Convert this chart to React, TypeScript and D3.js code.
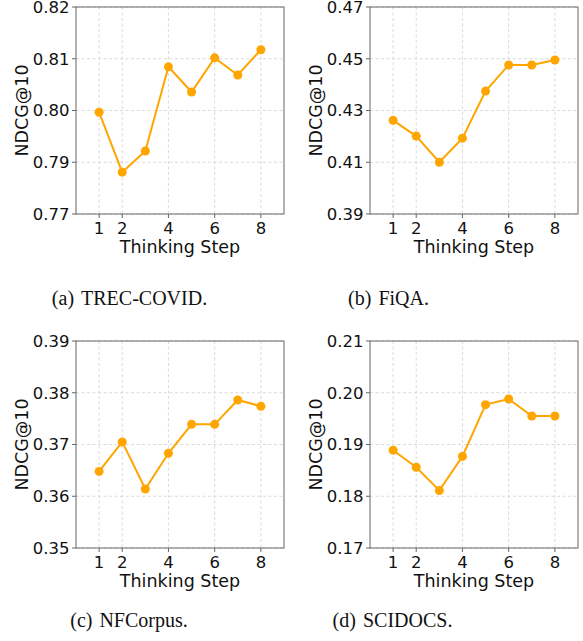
import React from 'react';
import * as d3 from 'd3';

// Thinking steps on the x axis
const steps = [1, 2, 3, 4, 5, 6, 7, 8];
const xTicks = [1, 2, 4, 6, 8];

// NDCG@10 per dataset
const trecCovid = [0.7966, 0.7833, 0.788, 0.8067, 0.8011, 0.8087, 0.8049, 0.8105];
const fiqa = [0.4262, 0.4201, 0.41, 0.4193, 0.4375, 0.4476, 0.4476, 0.4495];
const nfCorpus = [0.3648, 0.3705, 0.3614, 0.3683, 0.3739, 0.3739, 0.3786, 0.3774];
const scidocs = [0.1889, 0.1856, 0.1811, 0.1877, 0.1977, 0.1988, 0.1955, 0.1955];

// y limits and tick labels (5 evenly spaced ticks each)
const trecDomain: [number, number] = [0.774, 0.82];
const fiqaDomain: [number, number] = [0.39, 0.47];
const nfDomain: [number, number] = [0.35, 0.39];
const sciDomain: [number, number] = [0.17, 0.21];

const trecTicks = ['0.77', '0.79', '0.80', '0.81', '0.82'];
const fiqaTicks = ['0.39', '0.41', '0.43', '0.45', '0.47'];
const nfTicks = ['0.35', '0.36', '0.37', '0.38', '0.39'];
const sciTicks = ['0.17', '0.18', '0.19', '0.20', '0.21'];

const captionTags = ['(a)', '(b)', '(c)', '(d)'];
const captionNames = ['TREC-COVID.', 'FiQA.', 'NFCorpus.', 'SCIDOCS.'];

const W = 583;
const H = 641;
const PW = 208;
const PH = 207;
const ORANGE = '#FFA500';
const SPINE = '#666';
const SANS = '"DejaVu Sans", Verdana, sans-serif';
const SERIF = '"Liberation Serif", "Times New Roman", serif';

interface PanelProps {
  left: number;
  top: number;
  values: number[];
  domain: [number, number];
  tickLabels: string[];
}

const Panel: React.FC<PanelProps> = ({ left, top, values, domain, tickLabels }) => {
  const x = d3.scaleLinear().domain([0, 9]).range([0, PW]);
  const y = d3.scaleLinear().domain(domain).range([PH, 0]);
  const yTickVals = tickLabels.map((_, i) => domain[0] + (i * (domain[1] - domain[0])) / (tickLabels.length - 1));

  const line = d3.line<number>()
    .x((_, i) => x(steps[i]))
    .y(d => y(d));

  return (
    <g transform={`translate(${left},${top})`}>
      {/* grid */}
      {xTicks.map(t => (
        <line key={'gx' + t} x1={x(t)} x2={x(t)} y1={0} y2={PH}
          stroke="#d0d0d0" strokeWidth={0.8} strokeDasharray="3,2.5" />
      ))}
      {yTickVals.map((t, i) => (
        <line key={'gy' + i} x1={0} x2={PW} y1={y(t)} y2={y(t)}
          stroke="#d0d0d0" strokeWidth={0.8} strokeDasharray="3,2.5" />
      ))}

      {/* spines */}
      <rect x={0} y={0} width={PW} height={PH} fill="none" stroke={SPINE} strokeWidth={1} />

      {/* y ticks */}
      {yTickVals.map((t, i) => (
        <g key={'yt' + i} transform={`translate(0,${y(t)})`}>
          <line x1={-4} x2={0} stroke={SPINE} strokeWidth={1} />
          <text x={-6.5} dy="0.36em" textAnchor="end" fontSize={16.5} fontFamily={SANS} fill="#111">
            {tickLabels[i]}
          </text>
        </g>
      ))}

      {/* x ticks */}
      {xTicks.map(t => (
        <g key={'xt' + t} transform={`translate(${x(t)},${PH})`}>
          <line y1={0} y2={4} stroke={SPINE} strokeWidth={1} />
          <text y={20} textAnchor="middle" fontSize={16.5} fontFamily={SANS} fill="#111">{t}</text>
        </g>
      ))}

      {/* axis labels */}
      <text x={PW / 2} y={PH + 38.5} textAnchor="middle" fontSize={17.5} fontFamily={SANS} fill="#111">
        Thinking Step
      </text>
      <text transform={`translate(${-48},${PH / 2}) rotate(-90)`} textAnchor="middle" fontSize={17.5}
        fontFamily={SANS} fill="#111">
        NDCG@10
      </text>

      {/* series */}
      <path d={line(values) ?? ''} fill="none" stroke={ORANGE} strokeWidth={2} />
      {values.map((v, i) => (
        <circle key={'p' + i} cx={x(steps[i])} cy={y(v)} r={4.5} fill={ORANGE} />
      ))}
    </g>
  );
};

const captionPos = [
  { x: 129.5, y: 305 },
  { x: 388.5, y: 305 },
  { x: 129, y: 627 },
  { x: 392.5, y: 627 },
];

export default function App() {
  return (
    <svg width={W} height={H} style={{ position: 'absolute', left: 0, top: 0, background: '#fff' }}>
      <rect width={W} height={H} fill="#fff" />
      <Panel left={76} top={7} values={trecCovid} domain={trecDomain} tickLabels={trecTicks} />
      <Panel left={370} top={7} values={fiqa} domain={fiqaDomain} tickLabels={fiqaTicks} />
      <Panel left={76} top={341} values={nfCorpus} domain={nfDomain} tickLabels={nfTicks} />
      <Panel left={370} top={341} values={scidocs} domain={sciDomain} tickLabels={sciTicks} />

      {captionPos.map((p, i) => (
        <text key={'cap' + i} x={p.x} y={p.y} textAnchor="middle" fontSize={20} fontFamily={SERIF} fill="#111">
          <tspan>{captionTags[i]}</tspan>
          <tspan dx={7}>{captionNames[i]}</tspan>
        </text>
      ))}
    </svg>
  );
}
